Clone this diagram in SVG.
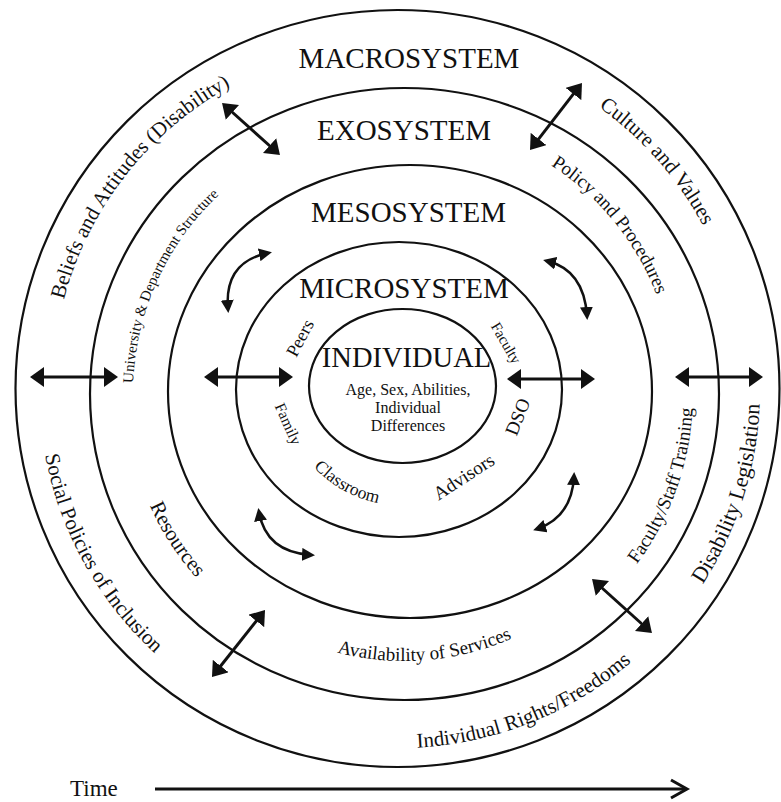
<svg xmlns="http://www.w3.org/2000/svg" xmlns:xlink="http://www.w3.org/1999/xlink" width="781" height="802" viewBox="0 0 781 802">
<style>
text{font-family:"Liberation Serif","Times New Roman",serif;fill:#111}
.ring{fill:none;stroke:#111;stroke-width:2.2}
.title{font-size:29px;text-anchor:middle}
.arr{fill:none;stroke:#111;stroke-width:3;marker-start:url(#ah);marker-end:url(#ah)}
.carr{fill:none;stroke:#111;stroke-width:2.5;marker-start:url(#ah2);marker-end:url(#ah2)}
</style>
<defs>
<marker id="ah" viewBox="0 0 14 20" refX="8" refY="10" markerWidth="14" markerHeight="20" markerUnits="userSpaceOnUse" orient="auto-start-reverse"><path d="M0,0 L14,10 L0,20 z" fill="#111"/></marker>
<marker id="ah2" viewBox="0 0 13 13" refX="9" refY="6.5" markerWidth="13" markerHeight="13" markerUnits="userSpaceOnUse" orient="auto-start-reverse"><path d="M0,0 L13,6.5 L0,13 z" fill="#111"/></marker>
<path id="macroCW" d="M52,389 A346,346 0 1 1 744,389 A346,346 0 1 1 52,389"/>
<path id="macroCCW" d="M39,389 A359,359 0 1 0 757,389 A359,359 0 1 0 39,389"/>
<path id="macroCCW2" d="M36,389 A362,362 0 1 0 760,389 A362,362 0 1 0 36,389"/>
<path id="exoCW" d="M133,393 A271,271 0 1 1 675,393 A271,271 0 1 1 133,393"/>
<path id="exoCCW1" d="M115,393 A289,289 0 1 0 693,393 A289,289 0 1 0 115,393"/>
<path id="exoCCW2" d="M126,393 A278,278 0 1 0 682,393 A278,278 0 1 0 126,393"/>
<path id="exoCCW3" d="M136,393 A268,268 0 1 0 672,393 A268,268 0 1 0 136,393"/>
<path id="microCCW" d="M283,388 A117,117 0 1 0 517,388 A117,117 0 1 0 283,388"/>
</defs>

<g id="macrosystem">
<ellipse class="ring" cx="397.5" cy="388.5" rx="382" ry="378.5"/>
<text class="title" x="409" y="68">MACROSYSTEM</text>
<text style="font-size:21px;text-anchor:middle"><textPath xlink:href="#macroCW" startOffset="229.5">Beliefs and Attitudes (Disability)</textPath></text>
<text style="font-size:21px;text-anchor:middle"><textPath xlink:href="#macroCW" startOffset="837">Culture and Values</textPath></text>
<text style="font-size:21px;text-anchor:middle"><textPath xlink:href="#macroCCW" startOffset="181.7">Social Policies of Inclusion</textPath></text>
<text style="font-size:22px;text-anchor:middle"><textPath xlink:href="#macroCCW2" startOffset="1026">Disability Legislation</textPath></text>
<text style="font-size:21px;text-anchor:middle"><textPath xlink:href="#macroCCW" startOffset="700.5">Individual Rights/Freedoms</textPath></text>
</g>

<g id="exosystem">
<ellipse class="ring" cx="404.5" cy="394" rx="314.5" ry="306"/>
<text class="title" x="404" y="140">EXOSYSTEM</text>
<text style="font-size:15px;text-anchor:middle"><textPath xlink:href="#exoCW" startOffset="115.9">University &amp; Department Structure</textPath></text>
<text style="font-size:19px;text-anchor:middle"><textPath xlink:href="#exoCW" startOffset="665.7">Policy and Procedures</textPath></text>
<text style="font-size:19px;text-anchor:middle"><textPath xlink:href="#exoCCW1" startOffset="808.3">Faculty/Staff Training</textPath></text>
<text style="font-size:21px;text-anchor:middle"><textPath xlink:href="#exoCCW2" startOffset="159">Resources</textPath></text>
<text style="font-size:19px;text-anchor:middle"><textPath xlink:href="#exoCCW3" startOffset="442.5">Availability of Services</textPath></text>
</g>

<g id="mesosystem">
<ellipse class="ring" cx="410" cy="391.5" rx="242" ry="226.5"/>
<text class="title" x="408.5" y="222">MESOSYSTEM</text>
</g>

<g id="microsystem">
<ellipse class="ring" cx="399" cy="389.5" rx="163" ry="147.5"/>
<text class="title" x="404" y="298">MICROSYSTEM</text>
<text style="font-size:18px;text-anchor:middle" transform="translate(300,338) rotate(-62)" x="0" y="6">Peers</text>
<text style="font-size:15px;text-anchor:middle" transform="translate(506,343) rotate(60)" x="0" y="5">Faculty</text>
<text style="font-size:15.5px;text-anchor:middle" transform="translate(288,424) rotate(66)" x="0" y="5">Family</text>
<text style="font-size:19px;text-anchor:middle" transform="translate(518,417) rotate(-68)" x="0" y="6">DSO</text>
<text style="font-size:19px;text-anchor:middle" transform="translate(464,477) rotate(-33)" x="0" y="6">Advisors</text>
<text style="font-size:17.5px;text-anchor:middle"><textPath xlink:href="#microCCW" startOffset="124">Classroom</textPath></text>
</g>

<g id="individual">
<ellipse class="ring" cx="402.5" cy="386" rx="93.5" ry="77"/>
<text class="title" x="406.5" y="367" style="font-size:28.5px">INDIVIDUAL</text>
<text style="font-size:16px;text-anchor:middle" x="408" y="395">Age, Sex, Abilities,</text>
<text style="font-size:16px;text-anchor:middle" x="408" y="413">Individual</text>
<text style="font-size:16px;text-anchor:middle" x="408" y="431">Differences</text>
</g>

<g id="connectors">
<path class="arr" d="M36,377 L112,377"/>
<path class="arr" d="M210,377 L287,377"/>
<path class="arr" d="M513,379 L589,379"/>
<path class="arr" d="M681,377 L757,377"/>
<path class="arr" d="M226.5,107 L275.5,151"/>
<path class="arr" d="M578.3,87.7 L533.7,145.3"/>
<path class="arr" d="M261.3,614.7 L215.7,672.3"/>
<path class="arr" d="M596.5,583 L647.5,629"/>
<path class="carr" d="M228,309 Q224,262 268,253"/>
<path class="carr" d="M547,261 Q584,270 587,316"/>
<path class="carr" d="M259,512 Q266,552 311,555"/>
<path class="carr" d="M574,476 Q572,517 537,529"/>
</g>

<g id="time">
<text style="font-size:23px" x="70" y="796">Time</text>
<path d="M155,789 L686,789" fill="none" stroke="#111" stroke-width="3"/>
<path d="M671,780 L687,789 L671,798" fill="none" stroke="#111" stroke-width="3"/>
</g>
</svg>
